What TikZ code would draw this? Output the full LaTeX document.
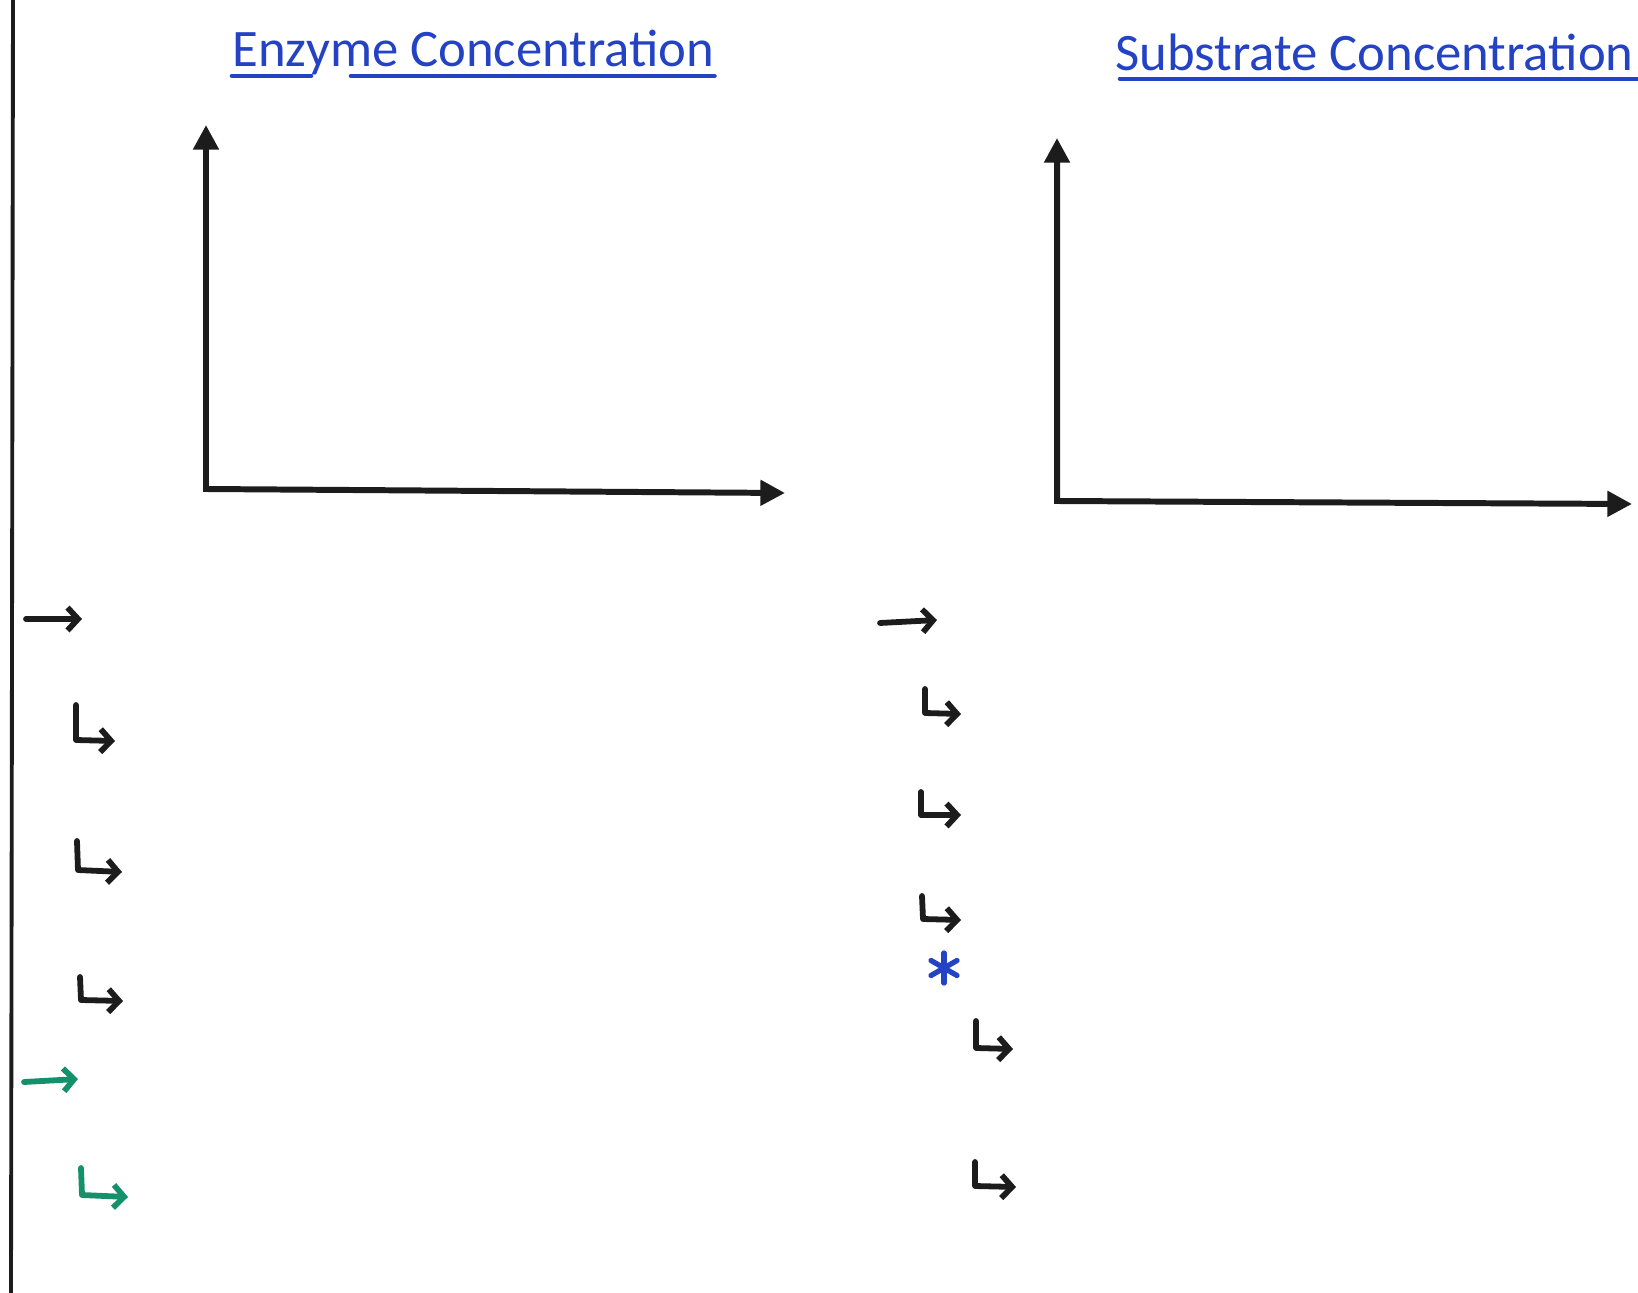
\documentclass[tikz,border=0pt]{standalone}
\usepackage{fontspec}
\setmainfont{Carlito}
\usepackage{tikz}
\usetikzlibrary{arrows.meta}
\usepackage{xcolor}
\definecolor{penblue}{HTML}{2442C4}
\definecolor{pengreen}{HTML}{14906A}
\definecolor{penblack}{HTML}{1C1C1C}

\begin{document}
\begin{tikzpicture}[x=0.02cm,y=-0.02cm,
axis/.style={line width=3.4pt,penblack,{Triangle[length=14pt,width=14pt]}-{Triangle[length=14pt,width=14pt]}},
point/.style={line width=3.3pt,penblack,line cap=round,line join=round,-{Straight Barb[length=6pt,width=13pt]}},
heading/.style={penblue,font=\fontsize{30}{36}\selectfont,anchor=base west,inner sep=0pt},
underline/.style={penblue,line width=2.6pt,line cap=round},
starstroke/.style={penblue,line width=3pt,line cap=round}]

\useasboundingbox (0,0) rectangle (1638,1293);
\clip (0,0) rectangle (1638,1293);

% margin
\coordinate (m0) at (13,0);
\coordinate (m1) at (11,1293);
\draw[line width=2.2pt,penblack] (m0) -- (m1);

% headings
\node[heading] (enz) at (232,67) {Enzyme Concentration};
\node[heading] (sub) at (1115,71) {Substrate Concentration};
\draw[underline] (232,76) -- (311,76);
\draw[underline] (351,76) -- (enz.base east |- 0,76);
\draw[underline] (1120,79) -- (1660,79);

% enzyme axes
\coordinate (eY) at (206,125);
\coordinate (eO) at (206,489);
\coordinate (eX) at (785,493);
\draw[axis] (eY) -- (eO) -- (eX);

% substrate axes
\coordinate (sY) at (1057,138);
\coordinate (sO) at (1057,501);
\coordinate (sX) at (1632,504);
\draw[axis] (sY) -- (sO) -- (sX);

% enzyme points
\coordinate (a0) at (26,619);  \coordinate (a1) at (82,619);
\draw[point] (a0) -- (a1);
\coordinate (b0) at (76,705);  \coordinate (b1) at (76,740);  \coordinate (b2) at (115,741);
\draw[point] (b0) -- (b1) -- (b2);
\coordinate (c0) at (77,841);  \coordinate (c1) at (78,870);  \coordinate (c2) at (122,872);
\draw[point] (c0) -- (c1) -- (c2);
\coordinate (d0) at (80,977);  \coordinate (d1) at (81,1000); \coordinate (d2) at (123,1001);
\draw[point] (d0) -- (d1) -- (d2);
\coordinate (g0) at (24,1082); \coordinate (g1) at (78,1079);
\draw[point,pengreen] (g0) -- (g1);
\coordinate (h0) at (81,1168); \coordinate (h1) at (82,1195); \coordinate (h2) at (128,1197);
\draw[point,pengreen] (h0) -- (h1) -- (h2);

% substrate points
\coordinate (p0) at (880,623);  \coordinate (p1) at (937,620);
\draw[point] (p0) -- (p1);
\coordinate (q0) at (925,689);  \coordinate (q1) at (925,713);  \coordinate (q2) at (961,714);
\draw[point] (q0) -- (q1) -- (q2);
\coordinate (r0) at (921,792);  \coordinate (r1) at (921,815);  \coordinate (r2) at (961,815);
\draw[point] (r0) -- (r1) -- (r2);
\coordinate (t0) at (922,896);  \coordinate (t1) at (923,919);  \coordinate (t2) at (961,920);
\draw[point] (t0) -- (t1) -- (t2);
\coordinate (star) at (944,968);
\foreach \a in {90,30,150}
  \draw[starstroke] ([shift={(\a:15)}]star) -- ([shift={(\a+180:15)}]star);
\coordinate (u0) at (976,1021); \coordinate (u1) at (976,1048); \coordinate (u2) at (1013,1049);
\draw[point] (u0) -- (u1) -- (u2);
\coordinate (v0) at (975,1162); \coordinate (v1) at (975,1186); \coordinate (v2) at (1016,1187);
\draw[point] (v0) -- (v1) -- (v2);
\end{tikzpicture}
\end{document}
